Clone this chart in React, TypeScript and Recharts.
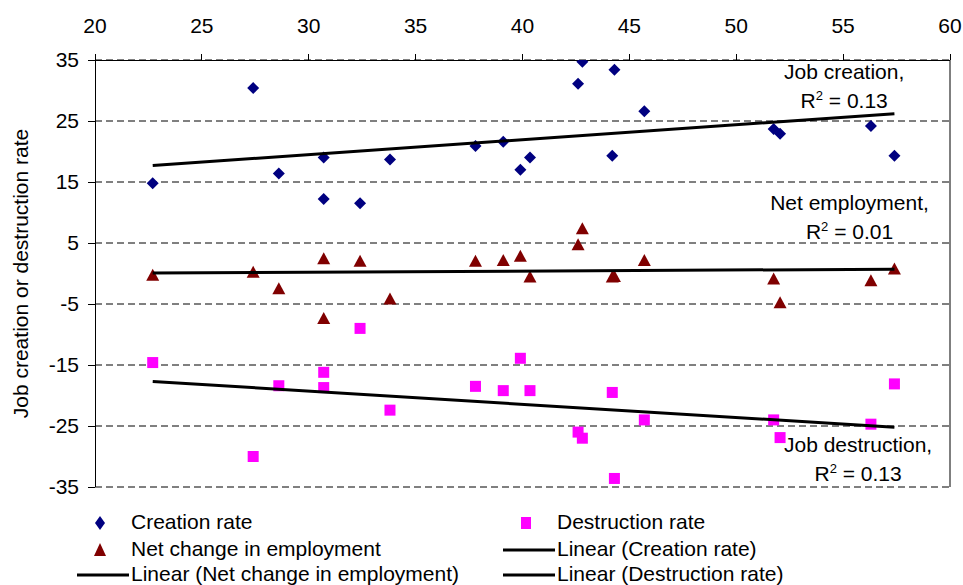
import React from 'react';
import {
  CartesianGrid,
  ReferenceDot,
  ReferenceLine,
  Scatter,
  ScatterChart,
  XAxis,
  YAxis,
} from 'recharts';

// share (x) for each of the 20 observations
const share = [22.7, 27.4, 28.6, 30.7, 30.7, 32.4, 33.8, 37.8, 39.1, 39.9, 40.35, 42.6, 42.8, 44.2, 44.3, 45.7, 51.75, 52.05, 56.3, 57.4];
const creationRate = [14.8, 30.4, 16.4, 19.0, 12.2, 11.5, 18.7, 20.9, 21.6, 17.0, 19.0, 31.1, 34.7, 19.3, 33.4, 26.6, 23.7, 22.9, 24.2, 19.3];
const destructionRate = [-14.6, -30.0, -18.4, -16.2, -18.7, -9.0, -22.4, -18.5, -19.2, -13.9, -19.2, -26.0, -27.0, -19.5, -33.6, -24.0, -24.0, -26.9, -24.7, -18.1];
const netChange = [-0.2, 0.3, -2.4, 2.5, -7.3, 2.1, -4.1, 2.1, 2.2, 2.9, -0.5, 4.8, 7.4, -0.5, -0.4, 2.2, -0.8, -4.7, -1.1, 0.8];

// trend line end points
const trendX = [22.7, 57.4];
const creationFit = [17.7, 26.2];
const netFit = [0.1, 0.7];
const destructionFit = [-17.7, -25.2];

const xTicks = [20, 25, 30, 35, 40, 45, 50, 55, 60];
const yTicks = [35, 25, 15, 5, -5, -15, -25, -35];

const annotations = [
  { x: 55.05, y: 33.1, title: 'Job creation,', r2: '0.13' },
  { x: 55.3, y: 11.5, title: 'Net employment,', r2: '0.01' },
  { x: 55.7, y: -28.05, title: 'Job destruction,', r2: '0.13' },
];

const FONT = '"Liberation Sans", Arial, sans-serif';
const NAVY = '#000080';
const MAROON = '#800000';
const MAGENTA = '#FF00FF';

const toPoints = (ys: number[], xs: number[] = share) => ys.map((y, i) => ({ x: xs[i], y }));

const Diamond = ({ cx, cy }: any) => (
  <path d={`M${cx},${cy - 6}L${cx + 6},${cy}L${cx},${cy + 6}L${cx - 6},${cy}Z`} fill={NAVY} />
);
const Triangle = ({ cx, cy }: any) => (
  <path d={`M${cx},${cy - 6}L${cx + 6.5},${cy + 6}L${cx - 6.5},${cy + 6}Z`} fill={MAROON} />
);
const Square = ({ cx, cy }: any) => <rect x={cx - 5.5} y={cy - 5.5} width={11} height={11} fill={MAGENTA} />;
const NoShape = () => <g />;

const AnnotationLabel = ({ viewBox, title, r2 }: any) => {
  const cx = viewBox.x + (viewBox.width || 0) / 2;
  const cy = viewBox.y + (viewBox.height || 0) / 2;
  return (
    <text x={cx} y={cy} textAnchor="middle" fontFamily={FONT} fontSize={21} fill="#000">
      <tspan x={cx} dy={7}>{title}</tspan>
      <tspan x={cx} dy={29}>R</tspan>
      <tspan dy={-8} fontSize={13}>2</tspan>
      <tspan dy={8}>{` = ${r2}`}</tspan>
    </text>
  );
};

const YLabel = ({ viewBox }: any) => {
  const x = viewBox.x;
  const y = viewBox.y + viewBox.height / 2;
  return (
    <text
      x={x}
      y={y}
      transform={`rotate(-90 ${x} ${y})`}
      textAnchor="middle"
      dominantBaseline="central"
      fontFamily={FONT}
      fontSize={21}
      fill="#000"
    >
      Job creation or destruction rate
    </text>
  );
};

const legendItems = [
  { label: 'Creation rate', kind: 'diamond', left: 131, top: 523 },
  { label: 'Destruction rate', kind: 'square', left: 557, top: 523 },
  { label: 'Net change in employment', kind: 'triangle', left: 131, top: 550 },
  { label: 'Linear (Creation rate)', kind: 'line', left: 557, top: 550 },
  { label: 'Linear (Net change in employment)', kind: 'line', left: 131, top: 575 },
  { label: 'Linear (Destruction rate)', kind: 'line', left: 557, top: 575 },
];

function LegendMarker({ kind }: { kind: string }) {
  if (kind === 'line') {
    return (
      <svg width={52} height={6} style={{ position: 'absolute', left: -54, top: -3 }}>
        <line x1={0} y1={3} x2={52} y2={3} stroke="#000" strokeWidth={3} />
      </svg>
    );
  }
  return (
    <svg width={16} height={16} style={{ position: 'absolute', left: -39, top: -8 }}>
      {kind === 'diamond' && <path d="M8,1L13,8L8,15L3,8Z" fill={NAVY} />}
      {kind === 'square' && <rect x={3} y={2} width={10} height={12} fill={MAGENTA} />}
      {kind === 'triangle' && <path d="M8,1L14,14L2,14Z" fill={MAROON} />}
    </svg>
  );
}

export default function App() {
  const tickStyle = { fill: '#000', fontSize: 21, fontFamily: FONT };
  return (
    <div style={{ position: 'absolute', left: 0, top: 0, width: 963, height: 585, background: '#fff' }}>
      <ScatterChart width={963} height={585} margin={{ top: 30, right: 13, bottom: 98, left: 20 }}>
        <CartesianGrid
          vertical={false}
          horizontal={{ shapeRendering: 'crispEdges' } as any}
          stroke="#000"
          strokeDasharray="7 4"
        />
        <XAxis
          type="number"
          dataKey="x"
          orientation="top"
          domain={[20, 60]}
          ticks={xTicks}
          height={30}
          tick={tickStyle}
          tickSize={6}
          tickMargin={21}
          axisLine={{ stroke: '#000', shapeRendering: 'crispEdges' }}
          tickLine={{ stroke: '#000', shapeRendering: 'crispEdges' }}
          allowDataOverflow
        />
        <YAxis
          type="number"
          dataKey="y"
          domain={[-35, 35]}
          ticks={yTicks}
          width={75}
          tick={tickStyle}
          tickSize={7}
          tickMargin={9}
          axisLine={{ stroke: '#000', shapeRendering: 'crispEdges' }}
          tickLine={{ stroke: '#000', shapeRendering: 'crispEdges' }}
          label={<YLabel />}
          allowDataOverflow
        />
        <ReferenceLine x={60} stroke="#555" strokeWidth={1.5} />
        <Scatter name="Creation rate" data={toPoints(creationRate)} shape={<Diamond />} isAnimationActive={false} />
        <Scatter name="Destruction rate" data={toPoints(destructionRate)} shape={<Square />} isAnimationActive={false} />
        <Scatter name="Net change in employment" data={toPoints(netChange)} shape={<Triangle />} isAnimationActive={false} />
        <Scatter
          name="Linear (Creation rate)"
          data={toPoints(creationFit, trendX)}
          line={{ stroke: '#000', strokeWidth: 3 }}
          shape={<NoShape />}
          isAnimationActive={false}
        />
        <Scatter
          name="Linear (Net change in employment)"
          data={toPoints(netFit, trendX)}
          line={{ stroke: '#000', strokeWidth: 3 }}
          shape={<NoShape />}
          isAnimationActive={false}
        />
        <Scatter
          name="Linear (Destruction rate)"
          data={toPoints(destructionFit, trendX)}
          line={{ stroke: '#000', strokeWidth: 3 }}
          shape={<NoShape />}
          isAnimationActive={false}
        />
        {annotations.map((a) => (
          <ReferenceDot
            key={a.title}
            x={a.x}
            y={a.y}
            r={0}
            fill="none"
            stroke="none"
            label={<AnnotationLabel title={a.title} r2={a.r2} />}
          />
        ))}
      </ScatterChart>
      {legendItems.map((item) => (
        <div
          key={item.label}
          style={{
            position: 'absolute',
            left: item.left,
            top: item.top,
            fontFamily: FONT,
            fontSize: 21,
            lineHeight: '20px',
            whiteSpace: 'nowrap',
          }}
        >
          <LegendMarker kind={item.kind} />
          <span style={{ position: 'relative', top: -11 }}>{item.label}</span>
        </div>
      ))}
    </div>
  );
}
